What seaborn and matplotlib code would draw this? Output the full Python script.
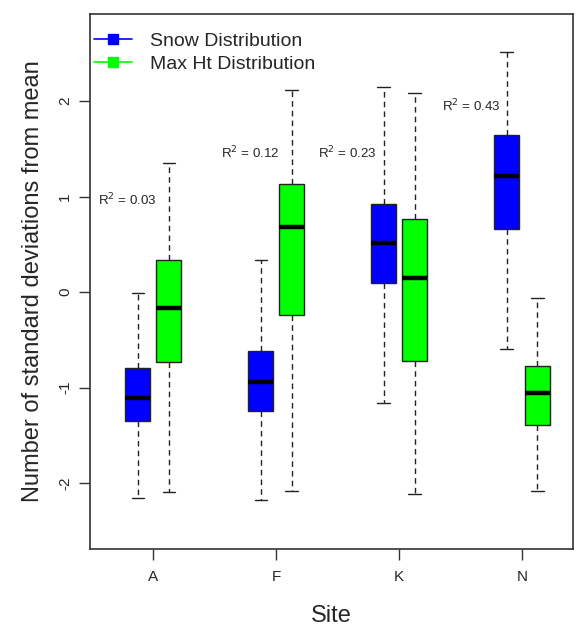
import numpy as np
import pandas as pd
import matplotlib
matplotlib.use("Agg")
import matplotlib.pyplot as plt
from matplotlib.lines import Line2D
import seaborn as sns

sites = ["A", "F", "K", "N"]
series = ["Snow Distribution", "Max Ht Distribution"]
# five-number summaries: min, q1, median, q3, max
snow_min = [-2.16, -2.18, -1.16, -0.60]
snow_q1 = [-1.35, -1.25, 0.09, 0.66]
snow_med = [-1.11, -0.94, 0.51, 1.21]
snow_q3 = [-0.80, -0.62, 0.92, 1.64]
snow_max = [-0.01, 0.34, 2.15, 2.51]
maxht_min = [-2.09, -2.08, -2.12, -2.08]
maxht_q1 = [-0.73, -0.24, -0.72, -1.39]
maxht_med = [-0.17, 0.68, 0.15, -1.06]
maxht_q3 = [0.34, 1.13, 0.76, -0.78]
maxht_max = [1.35, 2.11, 2.08, -0.06]
r2_labels = ["0.03", "0.12", "0.23", "0.43"]
r2_y = [0.96, 1.46, 1.46, 1.95]
r2_dx = [-0.45, -0.45, -0.66, -0.65]

rows = []
for i, s in enumerate(sites):
    for v in (snow_min[i], snow_q1[i], snow_med[i], snow_q3[i], snow_max[i]):
        rows.append((s, series[0], v))
    for v in (maxht_min[i], maxht_q1[i], maxht_med[i], maxht_q3[i], maxht_max[i]):
        rows.append((s, series[1], v))
df = pd.DataFrame(rows, columns=["Site", "Series", "Value"])

sns.set_theme(style="white")
plt.rcParams["font.family"] = ["Liberation Sans", "DejaVu Sans"]

fig = plt.figure(figsize=(5.76, 6.26), dpi=100)
ax = fig.add_axes([90 / 576, 1 - 549 / 626, (573 - 90) / 576, (549 - 14) / 626])

colors = {series[0]: "#0000FF", series[1]: "#00FF00"}
edge = "#222222"
sns.boxplot(data=df, x="Site", y="Value", hue="Series", order=sites,
            hue_order=series, palette=colors, saturation=1, whis=(0, 100),
            width=0.504, gap=0.2, linecolor=edge, linewidth=1.0, legend=False,
            ax=ax,
            whiskerprops=dict(color=edge, linewidth=1.0, linestyle=(0, (4, 3))),
            capprops=dict(color=edge, linewidth=1.0),
            medianprops=dict(color="black", linewidth=3.2),
            boxprops=dict(edgecolor=edge, linewidth=1.0))

ax.set_xlim(-0.515, 3.415)
ax.set_ylim(-2.691, 2.911)
ax.set_yticks([-2, -1, 0, 1, 2])
ax.set_yticklabels(["-2", "-1", "0", "1", "2"], rotation=90, va="center")
ax.tick_params(axis="both", which="both", direction="out", length=8, width=1,
               color="#333333", labelsize=11, left=True, bottom=True)
ax.tick_params(axis="x", pad=7)
ax.tick_params(axis="y", pad=5)
for sp in ax.spines.values():
    sp.set_color("#333333")
    sp.set_linewidth(1.2)

ax.set_xlabel("Site", fontsize=17, labelpad=15)
ax.set_ylabel("Number of standard deviations from mean", fontsize=17, labelpad=10)

for i, lab in enumerate(r2_labels):
    ax.text(i + r2_dx[i], r2_y[i], r"R$^2$" + " = " + lab,
            fontsize=9.6, ha="left", va="center")

handles = [Line2D([0], [0], color=colors[s], marker="s", markersize=7,
                  linewidth=1.2) for s in series]
ax.legend(handles, series, loc="upper left", frameon=False, fontsize=14,
          handlelength=1.95, borderaxespad=0.0, borderpad=0.2,
          handletextpad=0.93, labelspacing=0.3,
          bbox_to_anchor=(0.0, 1 - 14 / 535))

fig.savefig("out.png", dpi=100)
